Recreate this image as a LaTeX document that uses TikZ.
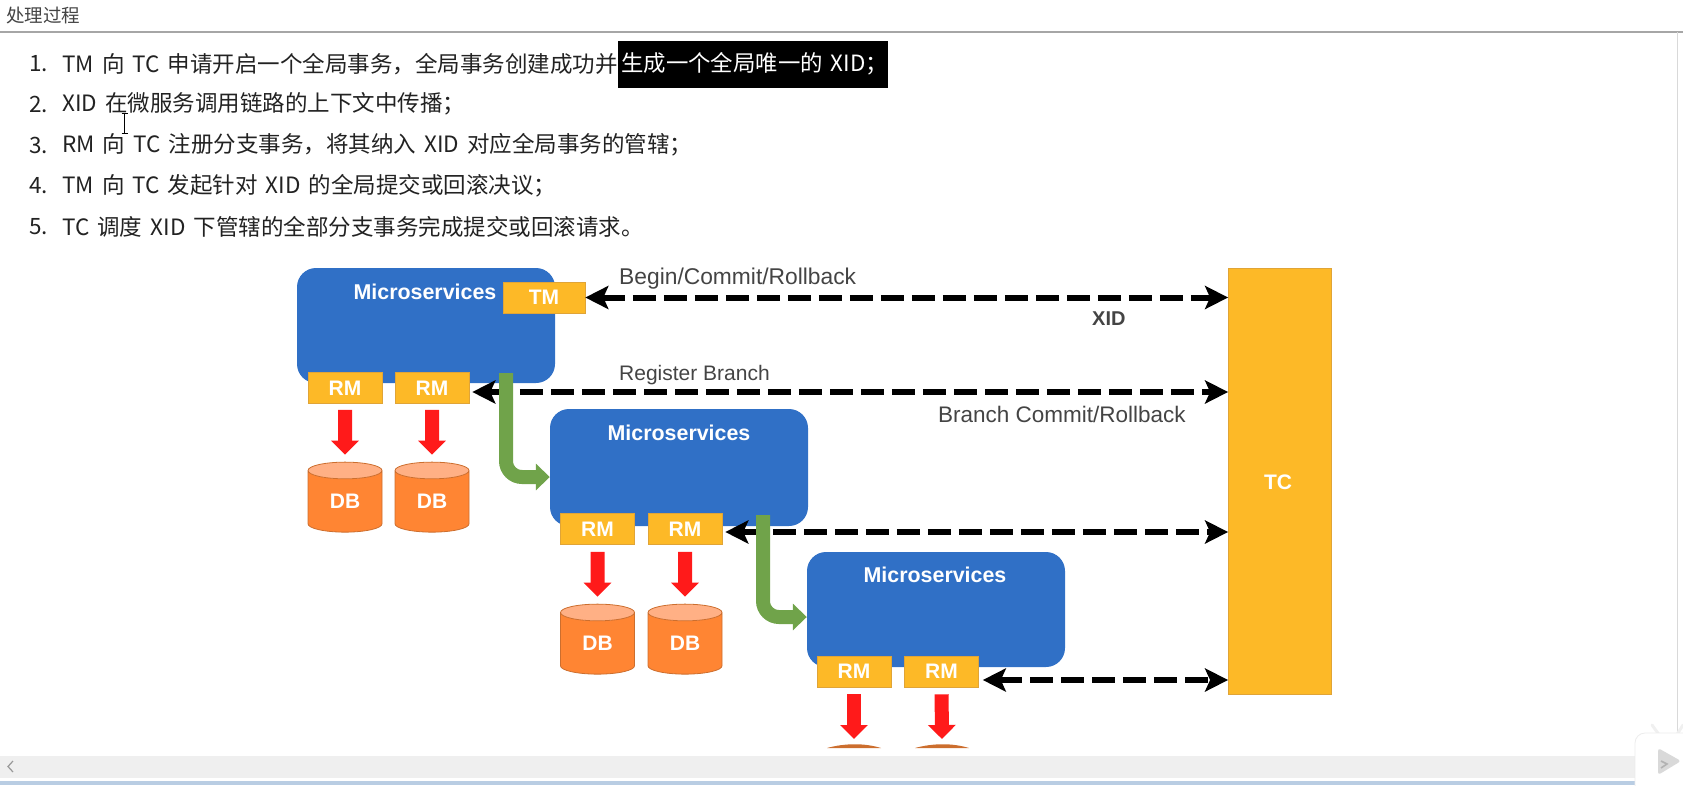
\documentclass[tikz,border=0pt]{standalone}
\usepackage{fontspec}
\setmainfont{Liberation Sans}
\newfontfamily\cjkfont[WordSpace=1.6]{Noto Sans CJK SC}
\usepackage{xcolor}
\usetikzlibrary{arrows.meta,shapes.geometric}

\definecolor{msblue}{HTML}{3070C6}
\definecolor{amber}{HTML}{FDB927}
\definecolor{amberedge}{HTML}{E0A437}
\definecolor{dborange}{HTML}{FF8533}
\definecolor{dbtop}{HTML}{FFB085}
\definecolor{dbedge}{HTML}{CC6E2E}
\definecolor{flowgreen}{HTML}{70A34A}
\definecolor{callred}{HTML}{FF1A1A}
\definecolor{bodytext}{HTML}{222222}
\definecolor{labeltext}{HTML}{444444}
\definecolor{barfill}{HTML}{EFEFEF}
\definecolor{windowband}{HTML}{B9CDE3}

\begin{document}
\begin{tikzpicture}[x=1pt,y=-1pt,
    msbox/.style={fill=msblue,rounded corners=19pt,minimum width=258pt,inner sep=0pt},
    mstext/.style={text=white,font=\fontsize{21.4}{24}\bfseries},
    rmbox/.style={fill=amber,draw=amberedge,line width=.6pt,minimum width=74pt,minimum height=31pt,inner sep=0pt,
                  text=white,font=\fontsize{21}{24}\bfseries},
    dbcyl/.style={cylinder,shape border rotate=90,aspect=.55,minimum width=74pt,minimum height=70pt,inner sep=0pt,
                  draw=dbedge,line width=.8pt,cylinder uses custom fill,cylinder body fill=dborange,
                  cylinder end fill=dbtop,text=white,font=\fontsize{21}{24}\bfseries},
    dashlink/.style={{Stealth[length=23pt,width=23pt,inset=5pt]}-{Stealth[length=23pt,width=23pt,inset=5pt]},
                     line width=6pt,dash pattern=on 23pt off 8pt,black},
    callarrow/.style={-{Triangle[length=14pt,width=27pt]},line width=14pt,callred},
    flowarrow/.style={-{Triangle[length=14pt,width=26pt]},line width=14pt,flowgreen,rounded corners=16pt},
    listtext/.style={anchor=west,inner sep=0pt,text=bodytext,font=\fontsize{22.5}{26}\cjkfont},
    linktext/.style={anchor=west,inner sep=0pt,text=labeltext,font=\fontsize{22.5}{26}\selectfont}]

\useasboundingbox (0,0) rectangle (1683,785);

\draw[gray!70,line width=1.5pt] (0,32) -- (1683,32);
\node[listtext,text=labeltext,font=\fontsize{18.5}{22}\cjkfont] (TITLE) at (6,15) {处理过程};

\node[listtext,fill=black,text=white,minimum height=47pt,font=\fontsize{22.4}{26}\cjkfont,inner xsep=3pt] (MARK) at (618,64) {\makebox[264pt][l]{生成一个全局唯一的 XID；}};
\node[listtext] (N1) at (29,64) {1.};
\node[listtext] (L1) at (62,64) {TM 向 TC 申请开启一个全局事务，全局事务创建成功并};
\node[listtext] (N2) at (29,104) {2.};
\node[listtext] (L2) at (62,104) {XID 在微服务调用链路的上下文中传播；};
\node[listtext] (N3) at (29,145) {3.};
\node[listtext] (L3) at (62,145) {RM 向 TC 注册分支事务，将其纳入 XID 对应全局事务的管辖；};
\node[listtext] (N4) at (29,186) {4.};
\node[listtext] (L4) at (62,186) {TM 向 TC 发起针对 XID 的全局提交或回滚决议；};
\node[listtext] (N5) at (29,227) {5.};
\node[listtext] (L5) at (62,227) {TC 调度 XID 下管辖的全部分支事务完成提交或回滚请求。};

\draw[black,line width=1pt] (124.5,113) -- (124.5,133)
      (121.5,113) -- (127.5,113)
      (121.5,133) -- (127.5,133);

\draw node[msbox,minimum height=115pt] (MS1) at (426,325.5) {}
      node[msbox,minimum height=117pt] (MS2) at (679,467.5) {}
      node[msbox,minimum height=115pt] (MS3) at (936,609.5) {};

\node[mstext] (MS1T) at (425,292) {Microservices};
\node[mstext] (MS2T) at (679,433) {Microservices};
\node[mstext] (MS3T) at (935,575) {Microservices};

\draw node[fill=amber,draw=amberedge,line width=.8pt,minimum width=103pt,minimum height=426pt] (TC) at (1280,481) {}
      node[text=white,font=\fontsize{21}{24}\bfseries] (TCT) at (1278,482) {TC};

\draw node[rmbox,minimum width=82pt] (TM) at (544,297.5) {TM}
      node[rmbox] (RM1L) at (345,388) {RM}
      node[rmbox] (RM1R) at (432,388) {RM}
      node[rmbox] (RM2L) at (597.5,529) {RM}
      node[rmbox] (RM2R) at (685,529) {RM}
      node[rmbox] (RM3L) at (854,671.5) {RM}
      node[rmbox] (RM3R) at (941.5,671.5) {RM};

\draw node[dbcyl] (DB1L) at (345,501.5) {DB}
      node[dbcyl] (DB1R) at (432,501.5) {DB}
      node[dbcyl] (DB2L) at (597.5,643.5) {DB}
      node[dbcyl] (DB2R) at (685,643.5) {DB};

\coordinate (DB3L) at (854,739);
\coordinate (DB3R) at (942,739);
\coordinate (GO1) at (506,373);
\coordinate (GO2) at (763,515);

\draw[dashlink] (TM.east) -- (TM.east -| TC.west);
\draw[dashlink] ([shift={(3pt,-4pt)}]RM1R.east) -- ([yshift=-4pt]RM1R.east -| TC.west);
\draw[dashlink] ([shift={(3pt,-3pt)}]RM2R.east) -- ([yshift=-3pt]RM2R.east -| TC.west);
\draw[dashlink] ([shift={(4pt,-8.5pt)}]RM3R.east) -- ([yshift=-8.5pt]RM3R.east -| TC.west);

\draw[flowarrow] (GO1) |- ([yshift=-9.5pt]MS2.west);
\draw[flowarrow] (GO2) |- ([yshift=-7.5pt]MS3.west);

\draw[callarrow,shorten <=6pt,shorten >=7pt] (RM1L.south) -- (DB1L.north);
\draw[callarrow,shorten <=6pt,shorten >=7pt] (RM1R.south) -- (DB1R.north);
\draw[callarrow,shorten <=7pt,shorten >=7pt] (RM2L.south) -- (DB2L.north);
\draw[callarrow,shorten <=7pt,shorten >=7pt] (RM2R.south) -- (DB2R.north);
\draw[callarrow,shorten <=7pt] (RM3L.south) -- (DB3L);
\draw[callarrow,shorten <=7pt] (RM3R.south) -- (DB3R);

\fill[dbedge] (827,748) .. controls (845,743) and (865,743) .. (881,748) -- cycle;
\fill[dbedge] (915,748) .. controls (933,743) and (953,743) .. (969,748) -- cycle;

\node[linktext,font=\fontsize{22.8}{26}\selectfont] (BEGIN) at (619,279) {Begin/Commit/Rollback};
\node[linktext,font=\fontsize{20}{24}\bfseries] (XID) at (1092,319) {XID};
\node[linktext,font=\fontsize{21}{26}\selectfont] (REG) at (619,375) {Register Branch};
\node[linktext] (BRANCH) at (938,414) {Branch Commit/Rollback};

\fill[barfill] (0,756) rectangle (1683,778);
\fill[white] (0,778) rectangle (1683,781);
\fill[windowband] (0,781) rectangle (1683,785);
\draw[gray!80,line width=1.2pt] (13,761) -- (8,766.5) -- (13,772);
\draw[gray!30,line width=1pt] (1677,32) -- (1677,756);

\draw[gray!12,line width=3pt,line cap=round] (1652,725) -- (1660,736);
\draw[gray!12,line width=3pt,line cap=round] (1683,725) -- (1676,736);
\fill[white,draw=gray!15,line width=.8pt,rounded corners=10pt] (1635,795) -- (1635,733) -- (1700,733) -- (1700,795) -- cycle;
\fill[gray!30,rounded corners=3pt] (1658,748) -- (1681,761) -- (1658,775) -- cycle;
\draw[gray!60,line width=1.6pt] (1661,761) -- (1667,764) -- (1661,768);

\end{tikzpicture}
\end{document}
